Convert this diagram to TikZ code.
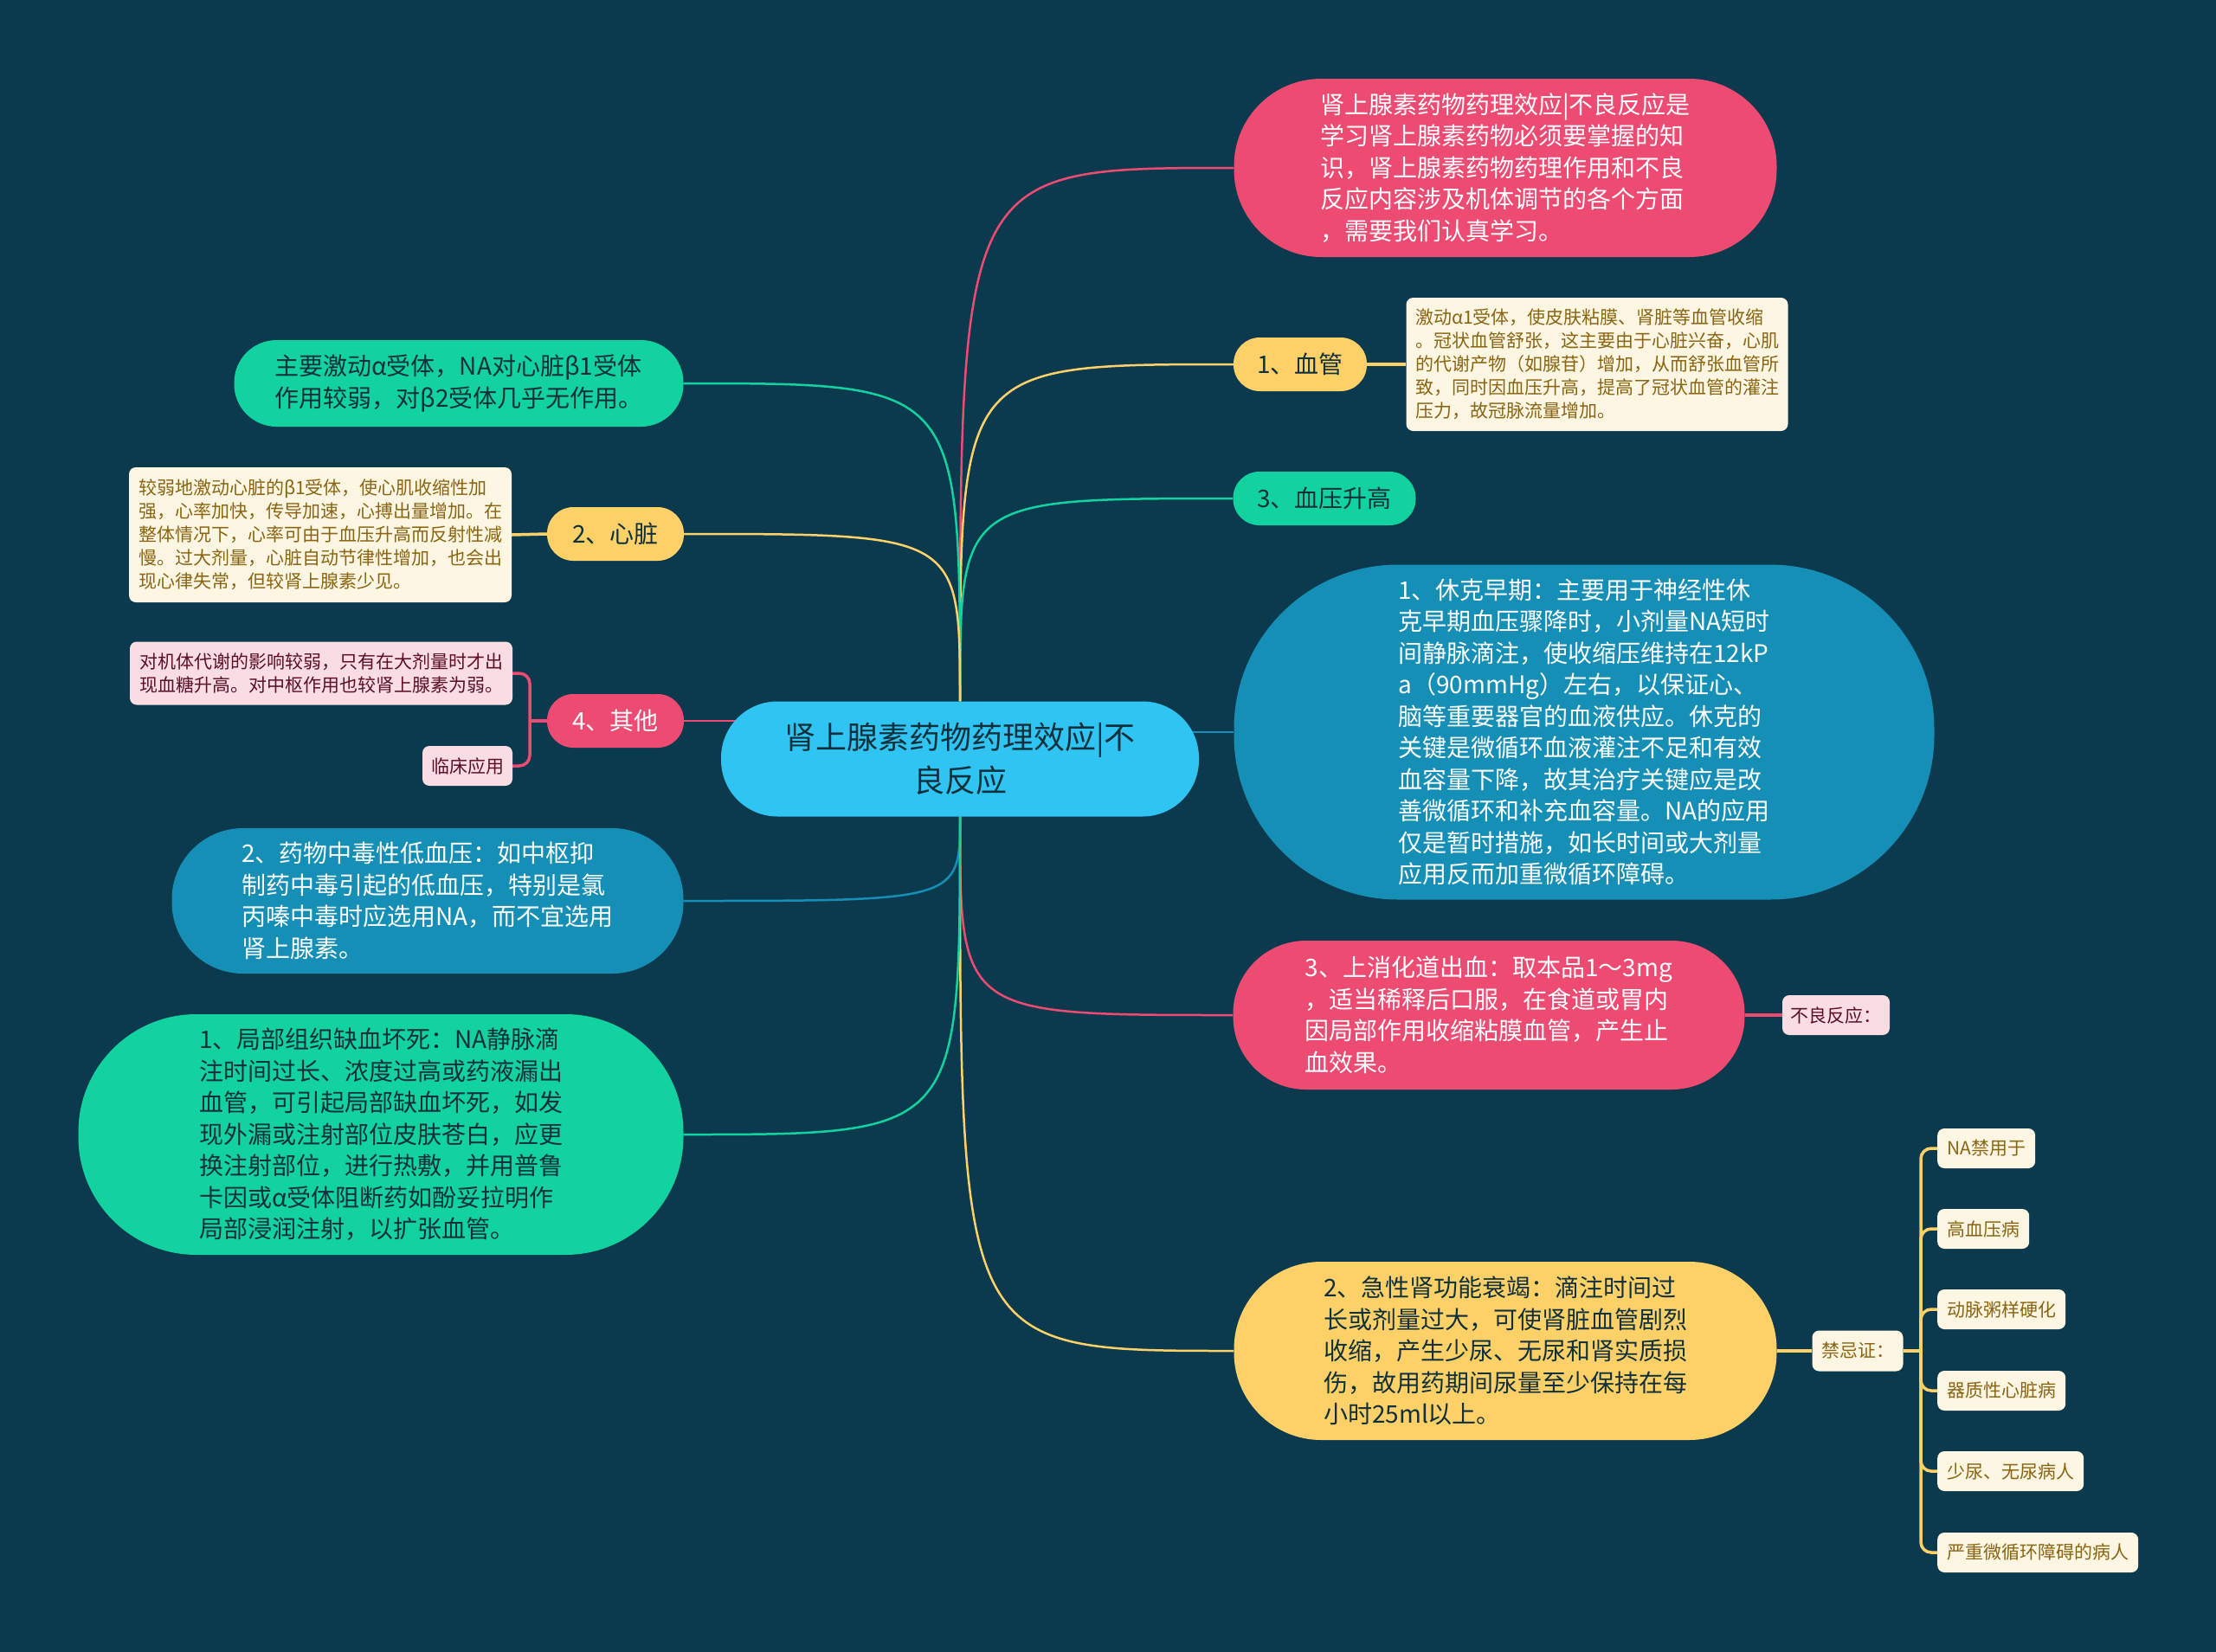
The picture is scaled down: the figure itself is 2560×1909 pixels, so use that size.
\documentclass[tikz,border=0pt]{standalone}
\usepackage{fontspec}
\setmainfont{Noto Sans CJK SC}
\usetikzlibrary{backgrounds}
\definecolor{bgnavy}{HTML}{0B3A4E}
\definecolor{hubcyan}{HTML}{30C4F2}
\definecolor{rosefill}{HTML}{EE4B73}
\definecolor{goldfill}{HTML}{FDD168}
\definecolor{mintfill}{HTML}{12D3A0}
\definecolor{tealfill}{HTML}{168FB6}
\definecolor{creamfill}{HTML}{FDF6E2}
\definecolor{blushfill}{HTML}{FADCE3}
\definecolor{creamtext}{HTML}{8A6513}
\definecolor{blushtext}{HTML}{5C1026}
\definecolor{darktext}{HTML}{10303C}

\begin{document}
\begin{tikzpicture}[x=1pt,y=-1pt,
  every node/.style={inner sep=0pt, align=left},
  bodyfont/.style={font=\fontsize{28}{36.5}\selectfont},
  notefont/.style={font=\fontsize{21}{27}\selectfont},
  pillsize/.style 2 args={minimum width=#1, minimum height=#2, rounded corners=0.49*#2},
  hubnode/.style={fill=hubcyan, text=darktext, pillsize={552pt}{133pt}, align=center, font=\fontsize{36}{50}\selectfont},
  rosetopic/.style={fill=rosefill, text=white, bodyfont},
  goldtopic/.style={fill=goldfill, text=darktext, bodyfont},
  minttopic/.style={fill=mintfill, text=darktext, bodyfont},
  tealtopic/.style={fill=tealfill, text=white, bodyfont},
  creamnote/.style={fill=creamfill, text=creamtext, rounded corners=8pt, notefont},
  blushnote/.style={fill=blushfill, text=blushtext, rounded corners=8pt, notefont},
  listitem/.style={creamnote, anchor=west, inner xsep=11pt, minimum height=46pt},
  mainline/.style={line width=2.5pt},
  subline/.style={line width=3.5pt}]
\useasboundingbox (0,0) rectangle (2560,1909);

\node[hubnode] (hub) at (1109,877) {肾上腺素药物药理效应|不\\良反应};

\node[rosetopic, pillsize={627pt}{206pt}] (intro) at (1739,194) {肾上腺素药物药理效应|不良反应是\\学习肾上腺素药物必须要掌握的知\\识，肾上腺素药物药理作用和不良\\反应内容涉及机体调节的各个方面\\，需要我们认真学习。};
\node[goldtopic, pillsize={154pt}{62pt}] (vessel) at (1502,421) {1、血管};
\node[creamnote, minimum width=441pt, minimum height=154pt] (vesselnote) at (1845,421) {激动α1受体，使皮肤粘膜、肾脏等血管收缩\\。冠状血管舒张，这主要由于心脏兴奋，心肌\\的代谢产物（如腺苷）增加，从而舒张血管所\\致，同时因血压升高，提高了冠状血管的灌注\\压力，故冠脉流量增加。};
\node[minttopic, pillsize={211pt}{62pt}] (pressure) at (1530,576) {3、血压升高};
\node[tealtopic, pillsize={809pt}{387pt}] (shock) at (1830,846) {1、休克早期：主要用于神经性休\\克早期血压骤降时，小剂量NA短时\\间静脉滴注，使收缩压维持在12kP\\a（90mmHg）左右，以保证心、\\脑等重要器官的血液供应。休克的\\关键是微循环血液灌注不足和有效\\血容量下降，故其治疗关键应是改\\善微循环和补充血容量。NA的应用\\仅是暂时措施，如长时间或大剂量\\应用反而加重微循环障碍。};
\node[rosetopic, pillsize={591pt}{172pt}] (bleed) at (1720,1173) {3、上消化道出血：取本品1～3mg\\，适当稀释后口服，在食道或胃内\\因局部作用收缩粘膜血管，产生止\\血效果。};
\node[blushnote, minimum width=124pt, minimum height=46pt] (adverse) at (2121,1173) {不良反应：};
\node[goldtopic, pillsize={627pt}{206pt}] (kidney) at (1739,1561) {2、急性肾功能衰竭：滴注时间过\\长或剂量过大，可使肾脏血管剧烈\\收缩，产生少尿、无尿和肾实质损\\伤，故用药期间尿量至少保持在每\\小时25ml以上。};
\node[creamnote, minimum width=105pt, minimum height=47pt] (contra) at (2146,1561) {禁忌证：};
\node[listitem] (forbid) at (2238,1327) {NA禁用于};
\node[listitem] (hyper) at (2238,1420) {高血压病};
\node[listitem] (athero) at (2238,1513) {动脉粥样硬化};
\node[listitem] (organic) at (2238,1607) {器质性心脏病};
\node[listitem] (anuria) at (2238,1700) {少尿、无尿病人};
\node[listitem] (microcirc) at (2238,1794) {严重微循环障碍的病人};
\coordinate (contrafork) at (2219,1561);

\node[minttopic, pillsize={519pt}{100pt}] (alpha) at (530,443) {主要激动α受体，NA对心脏β1受体\\作用较弱，对β2受体几乎无作用。};
\node[goldtopic, pillsize={158pt}{62pt}] (heart) at (711,617) {2、心脏};
\node[creamnote, minimum width=442pt, minimum height=156pt] (heartnote) at (370,618) {较弱地激动心脏的β1受体，使心肌收缩性加\\强，心率加快，传导加速，心搏出量增加。在\\整体情况下，心率可由于血压升高而反射性减\\慢。过大剂量，心脏自动节律性增加，也会出\\现心律失常，但较肾上腺素少见。};
\node[rosetopic, pillsize={158pt}{62pt}] (other) at (711,833) {4、其他};
\node[blushnote, minimum width=442pt, minimum height=73pt] (metabnote) at (371,778) {对机体代谢的影响较弱，只有在大剂量时才出\\现血糖升高。对中枢作用也较肾上腺素为弱。};
\node[blushnote, minimum width=104pt, minimum height=46pt] (clinic) at (540,885) {临床应用};
\coordinate (otherfork) at (612,833);
\node[tealtopic, pillsize={591pt}{168pt}] (poison) at (494,1041) {2、药物中毒性低血压：如中枢抑\\制药中毒引起的低血压，特别是氯\\丙嗪中毒时应选用NA，而不宜选用\\肾上腺素。};
\node[minttopic, pillsize={699pt}{278pt}] (ischemia) at (440,1311) {1、局部组织缺血坏死：NA静脉滴\\注时间过长、浓度过高或药液漏出\\血管，可引起局部缺血坏死，如发\\现外漏或注射部位皮肤苍白，应更\\换注射部位，进行热敷，并用普鲁\\卡因或α受体阻断药如酚妥拉明作\\局部浸润注射，以扩张血管。};

\begin{scope}[on background layer]
\fill[bgnavy] (0,0) rectangle (2560,1909);
\draw[mainline, rosefill] (hub.north) .. controls (hub.north |- intro.west) .. (intro.west);
\draw[mainline, goldfill] (hub.north) .. controls (hub.north |- vessel.west) .. (vessel.west);
\draw[mainline, mintfill] (hub.north) .. controls (hub.north |- pressure.west) .. (pressure.west);
\draw[mainline, tealfill] (hub.center |- shock.west) -- (shock.west);
\draw[mainline, rosefill] (hub.south) .. controls (hub.south |- bleed.west) .. (bleed.west);
\draw[mainline, goldfill] (hub.south) .. controls (hub.south |- kidney.west) .. (kidney.west);
\draw[mainline, mintfill] (hub.north) .. controls (hub.north |- alpha.east) .. (alpha.east);
\draw[mainline, goldfill] (hub.north) .. controls (hub.north |- heart.east) .. (heart.east);
\draw[mainline, rosefill] (other.east) -- (hub.center |- other.east);
\draw[mainline, tealfill] (hub.south) .. controls (hub.south |- poison.east) .. (poison.east);
\draw[mainline, mintfill] (hub.south) .. controls (hub.south |- ischemia.east) .. (ischemia.east);

\draw[subline, goldfill] (vessel.east) -- (vesselnote.west);
\draw[subline, goldfill] (heart.west) -- (heartnote.east);
\draw[subline, rosefill] (other.west) -- (otherfork);
\draw[subline, rosefill, rounded corners=12pt] (metabnote.east) -| (otherfork) |- (clinic.east);
\draw[subline, rosefill] (bleed.east) -- (adverse.west);
\draw[subline, goldfill] (kidney.east) -- (contra.west);
\draw[subline, goldfill] (contra.east) -- (contrafork);
\draw[subline, goldfill, rounded corners=12pt] (contrafork) |- (forbid.west);
\draw[subline, goldfill, rounded corners=12pt] (contrafork) |- (hyper.west);
\draw[subline, goldfill, rounded corners=12pt] (contrafork) |- (athero.west);
\draw[subline, goldfill, rounded corners=12pt] (contrafork) |- (organic.west);
\draw[subline, goldfill, rounded corners=12pt] (contrafork) |- (anuria.west);
\draw[subline, goldfill, rounded corners=12pt] (contrafork) |- (microcirc.west);
\end{scope}
\end{tikzpicture}
\end{document}
